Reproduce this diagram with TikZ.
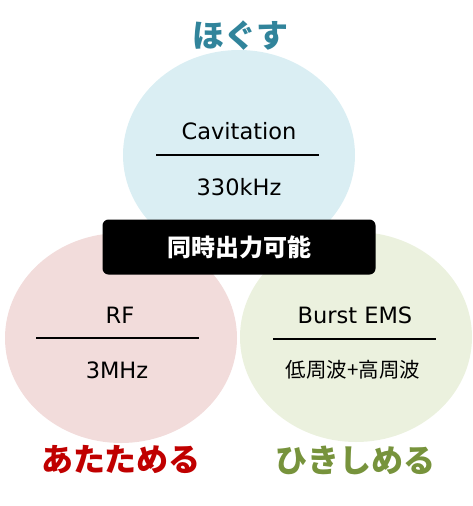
\documentclass[tikz,border=0pt]{standalone}
\usepackage{fontspec}
\setmainfont{Noto Sans CJK JP}
\newfontfamily\latinfont{DejaVu Sans}
\usepackage{xcolor}
\usetikzlibrary{shapes.geometric, positioning}
\definecolor{hogublue}{HTML}{DAEEF3}
\definecolor{atapink}{HTML}{F2DCDB}
\definecolor{hikigreen}{HTML}{EBF1DE}
\definecolor{hogutitle}{HTML}{31849B}
\definecolor{atatitle}{HTML}{C00000}
\definecolor{hikititle}{HTML}{77933C}

\begin{document}
\begin{tikzpicture}[
        x=1pt, y=-1pt,
        blob/.style={ellipse, minimum width=232pt, minimum height=210pt, inner sep=0pt, fill=#1},
        item/.style={font=\latinfont\fontsize{22.5}{24}\selectfont, inner sep=0pt},
        sub/.style={font=\fontsize{20.5}{22}\selectfont, inner sep=0pt},
        effect/.style={font=\fontsize{32}{34}\selectfont\bfseries, text=#1, inner sep=0pt},
        divider/.style={line width=1.2pt},
    ]
        \useasboundingbox (0,0) rectangle (472,506);

        %--- Kreise ---
        \node[blob=hogublue]  (cav) at (239,155) {};
        \node[blob=atapink]   (rf)  at (121,338) {};
        \node[blob=hikigreen] (ems) at (356,337) {};

        %--- Cavitation ---
        \node[item] (cavname) at (239,131) {Cavitation};
        \node[item] (cavfreq) at (239,187) {330kHz};
        \coordinate (cavl) at (156,155);
        \coordinate (cavr) at (319,155);
        \draw[divider] (cavl) -- (cavr);

        %--- RF ---
        \node[item] (rfname) at (120,315) {RF};
        \node[item] (rffreq) at (117,370) {3MHz};
        \coordinate (rfl) at (36,338);
        \coordinate (rfr) at (199,338);
        \draw[divider] (rfl) -- (rfr);

        %--- Burst EMS ---
        \node[item] (emsname) at (355,315) {Burst EMS};
        \node[sub]  (emsfreq) at (353,370) {低周波+高周波};
        \coordinate (emsl) at (273,339);
        \coordinate (emsr) at (436,339);
        \draw[divider] (emsl) -- (emsr);

        %--- Box ---
        \node[fill=black, rounded corners=6pt, minimum width=273pt, minimum height=55pt,
              text=white, font=\fontsize{24}{26}\selectfont\bfseries]
              (sim) at (239,247) {同時出力可能};

        %--- Wirkungen ---
        \node[effect=hogutitle] (hogu) at (240,36)  {ほぐす};
        \node[effect=atatitle]  (ata)  at (121,460) {あたためる};
        \node[effect=hikititle] (hiki) at (355,460) {ひきしめる};
    \end{tikzpicture}
\end{document}
